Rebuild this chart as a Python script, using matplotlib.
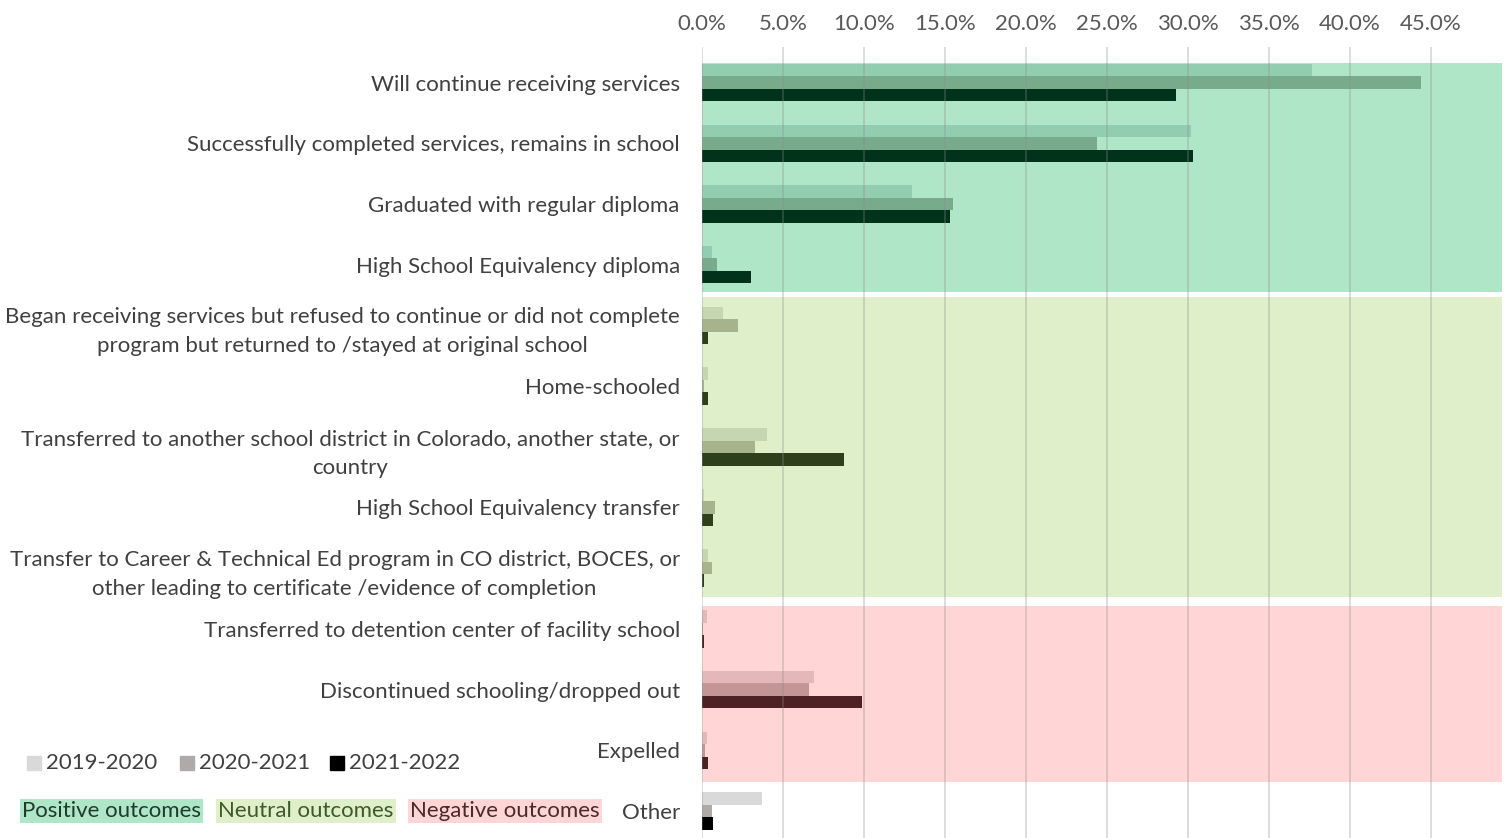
"""Outcomes by school year, horizontal grouped bars with outcome bands."""

import matplotlib

matplotlib.use("Agg")
import matplotlib.pyplot as plt
import numpy as np
from matplotlib.patches import Rectangle

categories = [
    "Will continue receiving services",
    "Successfully completed services, remains in school",
    "Graduated with regular diploma",
    "High School Equivalency diploma",
    "Began receiving services but refused to continue or did not complete\n"
    "program but returned to /stayed at original school",
    "Home-schooled",
    "Transferred to another school district in Colorado, another state, or\ncountry",
    "High School Equivalency transfer",
    "Transfer to Career & Technical Ed program in CO district, BOCES, or\n"
    "other leading to certificate /evidence of completion",
    "Transferred to detention center of facility school",
    "Discontinued schooling/dropped out",
    "Expelled",
    "Other",
]
groups = ["pos"] * 4 + ["neu"] * 5 + ["neg"] * 3 + ["oth"]
years = ["2019-2020", "2020-2021", "2021-2022"]

# percent values
y2019 = [37.7, 30.2, 13.0, 0.6, 1.3, 0.4, 4.0, 0.1, 0.4, 0.3, 6.9, 0.3, 3.7]
y2020 = [44.4, 24.4, 15.5, 0.9, 2.2, 0.1, 3.3, 0.8, 0.6, 0.05, 6.6, 0.2, 0.6]
y2021 = [29.3, 30.3, 15.3, 3.0, 0.4, 0.4, 8.8, 0.7, 0.15, 0.1, 9.9, 0.4, 0.7]

bar_colors = {
    "pos": ["#93CDAF", "#78AA8C", "#00331A"],
    "neu": ["#C5D6B0", "#A6B48E", "#2E3F1C"],
    "neg": ["#E4B8BA", "#C49596", "#4E2224"],
    "oth": ["#D9D9D9", "#AEAAAA", "#000000"],
}
band_colors = {"pos": "#B0E6C8", "neu": "#DFEFC9", "neg": "#FFD5D6"}
text_colors = {"pos": "#1E3B2B", "neu": "#3E5A2A", "neg": "#4A2A2C"}
# band extents in category units (top, bottom)
bands = {"pos": (-0.32, 3.45), "neu": (3.53, 8.47), "neg": (8.62, 11.53)}

plt.rcParams["font.family"] = ["Lato", "DejaVu Sans"]
TXT = "#404040"
FS = 16

fig = plt.figure(figsize=(15.09, 8.38), dpi=100)
ax = fig.add_axes([0.4652, 0.0, 0.530, 0.944])

xmax = 49.4
for g, (top, bot) in bands.items():
    ax.add_patch(Rectangle((0, top), xmax, bot - top, color=band_colors[g],
                           lw=0, zorder=0))

y = np.arange(len(categories))
h = 0.206
for k, vals in enumerate([y2019, y2020, y2021]):
    cols = [bar_colors[g][k] for g in groups]
    ax.barh(y + (k - 1) * h, vals, height=h, color=cols, zorder=2)

ax.set_xlim(0, xmax)
ax.set_ylim(12.445, -0.587)
ax.set_xticks(np.arange(0, 46, 5))
ax.set_xticklabels([f"{v:.1f}%" for v in np.arange(0, 46, 5)])
ax.xaxis.tick_top()
ax.tick_params(axis="x", length=0, pad=9, labelsize=FS, labelcolor="#595959")
ax.grid(axis="x", color="#8C8C8C", alpha=0.35, lw=1.2, zorder=1)
ax.set_axisbelow(False)
for gl in ax.get_xgridlines():
    gl.set_zorder(1)
ax.set_yticks(y)
ax.set_yticklabels(categories, multialignment="center", linespacing=1.55)
ax.tick_params(axis="y", length=0, pad=16, labelsize=FS, labelcolor=TXT)
for s in ax.spines.values():
    s.set_visible(False)

# series legend
leg_x = [27, 180, 330]
for k, yr in enumerate(years):
    x0 = leg_x[k] / 1509
    fig.patches.append(Rectangle((x0, 1 - 770 / 838), 14 / 1509, 14 / 838,
                                 transform=fig.transFigure,
                                 color=bar_colors["oth"][k], figure=fig))
    fig.text(x0 + 19 / 1509, 1 - 763 / 838, yr, fontsize=FS, color=TXT,
             va="center", ha="left")

# outcome group legend
box_x = {"pos": 22, "neu": 218, "neg": 410}
names = {"pos": "Positive outcomes", "neu": "Neutral outcomes",
         "neg": "Negative outcomes"}
for g, x in box_x.items():
    fig.text(x / 1509, 1 - 811 / 838, names[g], fontsize=FS,
             color=text_colors[g], va="center", ha="left",
             bbox=dict(boxstyle="square,pad=0.1", fc=band_colors[g], ec="none"))

fig.savefig("out.png", dpi=100)
